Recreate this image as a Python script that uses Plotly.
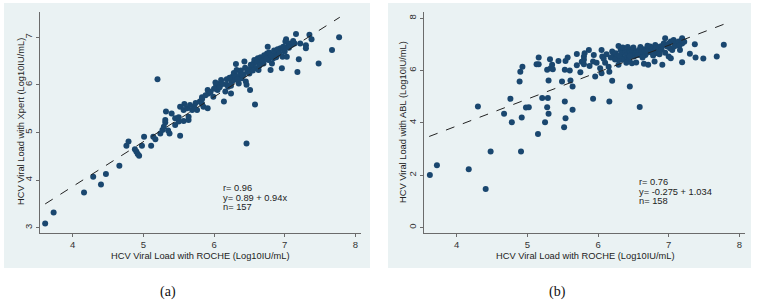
import plotly.graph_objects as go

W, H = 758, 303

# ---------------- Panel (a): Xpert vs ROCHE ----------------
roche_a = [3.61, 3.73, 4.16, 4.29, 4.40, 4.47, 4.66,
           4.76, 4.79, 4.88, 4.90, 4.92, 4.94, 4.98, 5.01, 5.11, 5.14, 5.17, 5.24, 5.27, 5.29, 5.31, 5.35, 5.37, 5.45, 5.50, 5.52, 5.57, 5.64,
           5.20, 6.46,
           5.32, 5.31, 5.45, 5.50, 5.52, 5.57, 5.62, 5.64, 5.69, 5.72, 5.76, 5.80, 5.83, 5.85,
           5.83, 5.83, 5.91, 5.92, 5.91, 5.99, 6.03, 6.05, 6.06, 6.14, 6.16, 6.18, 6.20, 6.24, 6.25, 6.26, 6.28, 6.29, 6.31, 6.32,
           6.35, 6.36, 6.37, 6.39, 6.42, 6.43, 6.45, 6.46, 6.49, 6.51, 6.50, 6.53, 6.56, 6.58, 6.60, 6.62, 6.63, 6.65, 6.68, 6.70,
           6.72, 6.75, 6.76, 6.77, 6.80, 6.80, 6.82, 6.84, 6.87, 6.89, 6.91, 6.94, 6.96, 6.97, 7.01, 7.02, 7.03, 7.04, 7.07, 7.10,
           7.14, 7.16, 7.18, 7.20, 7.22, 7.30, 7.30, 7.35, 7.38, 7.48, 7.67, 7.77,
           5.88, 5.95, 6.00, 6.02, 6.08, 6.10, 6.12, 6.18, 6.22, 6.24, 6.28, 6.30, 6.33, 6.38, 6.40, 6.44, 6.47, 6.52, 6.55, 6.57,
           6.61, 6.64, 6.66, 6.69, 6.71, 6.74, 6.78, 6.81, 6.85, 6.88, 6.90, 6.93, 6.98, 7.00, 7.06, 7.12, 5.40, 5.58, 5.66, 5.74]
xpert_a = [3.09, 3.32, 3.74, 4.07, 3.91, 4.13, 4.30,
           4.72, 4.81, 4.65, 4.60, 4.55, 4.51, 4.72, 4.91, 4.72, 4.91, 4.86, 4.98, 5.05, 5.12, 5.21, 5.04, 4.98, 5.16, 5.23, 4.93, 5.24, 5.26,
           6.12, 4.77,
           5.44, 5.26, 5.30, 5.32, 5.54, 5.47, 5.51, 5.33, 5.47, 5.54, 5.47, 5.65, 5.74, 5.54,
           5.70, 5.60, 5.89, 5.82, 5.51, 5.75, 5.98, 5.89, 6.02, 5.65, 5.86, 6.00, 5.96, 5.82, 6.07, 6.17, 6.10, 6.21, 6.44, 6.31,
           6.03, 6.17, 6.24, 6.14, 6.21, 6.49, 6.07, 6.00, 6.31, 5.89, 6.24, 6.38, 6.45, 5.59, 6.35, 6.56, 6.31, 6.45, 6.52, 6.45,
           6.59, 6.66, 6.80, 6.52, 6.59, 6.31, 6.45, 6.56, 6.66, 6.63, 6.70, 6.77, 6.35, 6.59, 6.91, 6.96, 6.59, 6.80, 6.87, 6.84,
           6.87, 7.07, 6.27, 6.54, 6.87, 6.83, 6.77, 7.05, 6.96, 6.45, 6.73, 7.00,
           5.78, 5.85, 5.92, 6.05, 5.95, 6.10, 6.02, 6.12, 6.15, 5.98, 6.25, 6.18, 6.12, 6.30, 6.22, 6.36, 6.28, 6.42, 6.30, 6.52,
           6.48, 6.40, 6.58, 6.50, 6.62, 6.55, 6.68, 6.62, 6.72, 6.58, 6.75, 6.66, 6.80, 6.70, 6.78, 6.92, 5.40, 5.60, 5.58, 5.62]
fit_x_a = [3.61, 7.78]
fit_y_a = [3.50, 7.42]
stats_a = ["r= 0.96", "y= 0.89 + 0.94x", "n= 157"]

# ---------------- Panel (b): ABL vs ROCHE ----------------
roche_b = [3.62, 3.72, 4.17, 4.41, 4.48, 4.91, 5.15, 5.52,
           4.30, 4.67, 4.76, 4.78, 4.89, 4.90, 4.93, 4.92, 4.98, 5.02, 5.13, 5.16, 5.16, 5.21, 5.25, 5.28, 5.29, 5.30, 5.30, 5.28,
           5.32, 5.33, 5.35, 5.36, 5.44, 5.49, 5.53, 5.53, 5.54, 5.54, 5.57, 5.61, 5.64, 5.64, 5.70, 5.75, 5.77, 5.80, 5.81, 5.80,
           5.80, 5.87, 5.94, 5.93, 6.05, 6.06, 6.03, 5.96, 6.05, 6.15, 6.16, 6.20, 5.93, 6.16, 6.45, 6.59,
           6.20, 6.22, 6.25, 6.27, 6.29, 6.32, 6.34, 6.36, 6.39, 6.41, 6.44, 6.46, 6.48, 6.51, 6.53, 6.55, 6.58, 6.60, 6.62, 6.65,
           6.67, 6.70, 6.72, 6.74, 6.77, 6.79, 6.81, 6.84, 6.86, 6.88, 6.91, 6.93, 6.95, 6.98, 7.00, 7.03, 7.05, 7.07, 7.10, 7.12,
           7.14, 7.19, 7.19,
           6.29, 6.39, 6.48, 6.54, 6.65, 6.71, 6.80, 6.91, 7.00, 7.03, 7.16, 7.19, 7.30, 7.37, 7.38, 7.49, 7.68, 7.78, 6.34, 6.44, 6.29,
           6.08, 6.12, 6.18, 6.24, 6.30, 6.35, 6.42, 6.45, 6.50, 6.56, 6.60, 6.63, 6.68, 6.70, 6.75, 6.78, 6.82, 6.87, 6.90, 6.95,
           7.02, 7.08, 7.15, 7.22, 5.98, 6.10, 5.70, 5.60, 5.88, 6.40]
abl_b = [2.01, 2.38, 2.23, 1.47, 2.91, 2.91, 3.58, 3.83,
         4.63, 4.35, 4.92, 4.02, 5.58, 5.96, 6.15, 4.21, 4.59, 4.60, 6.24, 6.24, 6.50, 4.95, 4.02, 4.60, 4.95, 4.35, 5.62, 6.03,
         6.43, 6.09, 6.22, 6.05, 6.37, 5.58, 6.03, 4.82, 4.18, 6.37, 6.50, 5.62, 5.39, 4.50, 6.63, 5.94, 6.34, 6.24, 6.66, 6.41,
         6.54, 6.79, 6.60, 6.35, 6.79, 6.54, 6.09, 5.77, 5.90, 6.15, 5.96, 5.61, 4.92, 4.82, 5.39, 4.61,
         6.73, 6.60, 6.66, 6.54, 6.94, 6.79, 6.66, 6.47, 6.73, 6.60, 6.82, 6.69, 6.79, 6.54, 6.66, 6.73, 6.79, 6.60, 6.73, 6.82,
         6.60, 6.69, 6.79, 6.92, 6.85, 6.73, 6.98, 6.66, 6.79, 6.92, 6.94, 7.04, 7.24, 6.92, 7.04, 7.11, 6.79, 7.17, 7.04, 6.98,
         7.11, 7.24, 7.04,
         6.22, 6.47, 6.28, 6.31, 6.26, 6.22, 6.35, 6.22, 6.54, 6.47, 6.79, 6.32, 6.64, 7.01, 6.50, 6.46, 6.54, 6.99, 6.41, 6.41, 6.41,
         6.45, 6.62, 6.50, 6.42, 6.58, 6.88, 6.90, 6.55, 6.88, 6.60, 6.90, 6.50, 6.75, 6.95, 6.70, 6.58, 6.85, 6.62, 6.80, 6.68,
         6.85, 6.92, 6.95, 7.10, 6.30, 6.30, 6.20, 6.00, 6.18, 6.30]
fit_x_b = [3.61, 7.78]
fit_y_b = [3.48, 7.77]
stats_b = ["r= 0.76", "y= -0.275 + 1.034", "n= 158"]

x_ticks = [4, 5, 6, 7, 8]
y_ticks_a = [3, 4, 5, 6, 7]
y_ticks_b = [0, 2, 4, 6, 8]
x_title = "HCV Viral Load with ROCHE (Log10IU/mL)"
y_title_a = "HCV Viral Load with Xpert (Log10IU/mL)"
y_title_b = "HCV Viral Load with ABL (Log10IU/mL)"
captions = ["(a)", "(b)"]

NAVY = "#1a476f"
BG = "#eaf2f3"
AX = "#6b6b6b"
FONT = "Liberation Sans, Arial, sans-serif"

def px_x(p):
    return p / W

def px_y(p):
    return 1 - p / H

fig = go.Figure()
fig.add_trace(go.Scatter(x=roche_a, y=xpert_a, mode="markers", xaxis="x", yaxis="y",
                         marker=dict(color=NAVY, size=6, line=dict(width=0)), showlegend=False))
fig.add_trace(go.Scatter(x=fit_x_a, y=fit_y_a, mode="lines", xaxis="x", yaxis="y",
                         line=dict(color="#222222", width=1, dash="dash"), showlegend=False))
fig.add_trace(go.Scatter(x=roche_b, y=abl_b, mode="markers", xaxis="x2", yaxis="y2",
                         marker=dict(color=NAVY, size=6, line=dict(width=0)), showlegend=False))
fig.add_trace(go.Scatter(x=fit_x_b, y=fit_y_b, mode="lines", xaxis="x2", yaxis="y2",
                         line=dict(color="#222222", width=1, dash="dash"), showlegend=False))

ydom = [px_y(233), px_y(12)]
common_x = dict(tickvals=x_ticks, ticks="outside", ticklen=3, tickcolor=AX, showline=True,
                linecolor=AX, linewidth=1, showgrid=False, zeroline=False, ticklabelstandoff=0,
                tickfont=dict(family=FONT, size=9.5, color="#333"), fixedrange=True)
common_y = dict(ticks="outside", ticklen=3, tickcolor=AX, showline=True, linecolor=AX, linewidth=1,
                showgrid=True, gridcolor=BG, gridwidth=1, zeroline=False, tickangle=-90,
                tickfont=dict(family=FONT, size=9.5, color="#333"), fixedrange=True)

fig.update_layout(
    width=W, height=H, margin=dict(l=0, r=0, t=0, b=0),
    paper_bgcolor="white", plot_bgcolor="white",
    xaxis=dict(domain=[px_x(40), px_x(361)], range=[3.537, 8.08], anchor="y", **common_x),
    yaxis=dict(domain=ydom, range=[2.89, 7.53], tickvals=y_ticks_a, anchor="x", **common_y),
    xaxis2=dict(domain=[px_x(424), px_x(745)], range=[3.537, 8.08], anchor="y2", **common_x),
    yaxis2=dict(domain=ydom, range=[-0.21, 8.24], tickvals=y_ticks_b, anchor="x2", **common_y),
)

shapes = []
for x0, x1 in [(4, 370), (388, 751)]:
    shapes.append(dict(type="rect", xref="paper", yref="paper", x0=px_x(x0), x1=px_x(x1),
                       y0=px_y(268), y1=px_y(3), fillcolor=BG, line=dict(width=0), layer="below"))
fig.update_layout(shapes=shapes)

ann = []
tf = dict(family=FONT, size=9.3, color="#222")
# axis titles
for cx in [200, 585]:
    ann.append(dict(xref="paper", yref="paper", x=px_x(cx), y=px_y(255.5), text=x_title, showarrow=False,
                    font=tf, xanchor="center", yanchor="middle"))
for cx, t in [(21, y_title_a), (403, y_title_b)]:
    ann.append(dict(xref="paper", yref="paper", x=px_x(cx), y=px_y(122), text=t, showarrow=False,
                    font=tf, textangle=-90, xanchor="center", yanchor="middle"))
# stats text
for lines, lx, ty in [(stats_a, 221, 188), (stats_b, 637, 182)]:
    for i, s in enumerate(lines):
        ann.append(dict(xref="paper", yref="paper", x=px_x(lx), y=px_y(ty + i * 9.7), text=s,
                        showarrow=False, font=tf, xanchor="left", yanchor="middle"))
# captions
for cx, c in [(168, captions[0]), (557, captions[1])]:
    ann.append(dict(xref="paper", yref="paper", x=px_x(cx), y=px_y(292), text=c, showarrow=False,
                    font=dict(family="Liberation Serif, serif", size=14, color="#111"),
                    xanchor="center", yanchor="middle"))
fig.update_layout(annotations=ann)

fig.write_html("out.html")
